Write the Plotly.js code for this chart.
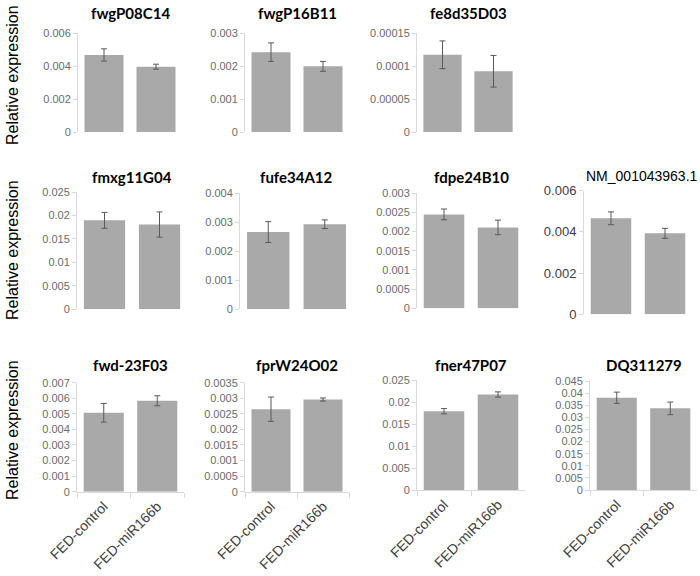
<!DOCTYPE html>
<html>
<head>
<meta charset="utf-8">
<script src="https://cdn.plot.ly/plotly-3.0.1.min.js"></script>
<style>html,body{margin:0;padding:0;background:#fff;}#chart{width:700px;height:576px;}</style>
</head>
<body>
<div id="chart"></div>
<script>
// ---- data ----
const genes = ["fwgP08C14", "fwgP16B11", "fe8d35D03", "fmxg11G04", "fufe34A12", "fdpe24B10", "NM_001043963.1", "fwd-23F03", "fprW24O02", "fner47P07", "DQ311279"];
const categories = ["FED-control", "FED-miR166b"];
const controlMean = [0.00467, 0.00242, 0.000117, 0.0190, 0.00266, 0.00245, 0.00466, 0.00507, 0.00265, 0.0179, 0.0381];
const controlErr  = [0.00037, 0.00028, 0.000021, 0.0017, 0.00036, 0.00014, 0.00031, 0.00060, 0.00039, 0.0006, 0.0023];
const mirMean     = [0.00396, 0.00199, 0.000092, 0.0181, 0.00293, 0.00211, 0.00393, 0.00584, 0.00296, 0.0217, 0.0337];
const mirErr      = [0.00015, 0.00015, 0.000024, 0.0027, 0.00015, 0.00019, 0.00024, 0.00032, 0.00005, 0.0006, 0.0026];
const axisMax     = [0.006, 0.003, 0.00015, 0.025, 0.004, 0.003, 0.006, 0.007, 0.0035, 0.025, 0.045];
const tickStep    = [0.002, 0.001, 0.00005, 0.005, 0.001, 0.0005, 0.002, 0.001, 0.0005, 0.005, 0.005];
const yTitle = "Relative expression";

// ---- panel placement (pixels) ----
const W = 700, H = 576;
const boxes = [
  // [left, right, top, bottom, titleY, row]
  [78, 182, 33, 132, 13, 1],
  [245, 349, 33, 132, 13, 1],
  [417, 519, 33, 132, 13, 1],
  [77, 187, 192.3, 309, 177, 2],
  [240, 353, 193.3, 309, 177, 2],
  [417, 525, 193.3, 308.3, 177, 2],
  [584, 692, 190.7, 314.3, 176, 2],
  [77, 184, 382.7, 491.7, 365, 3],
  [245, 349, 382.7, 491.7, 365, 3],
  [417, 525, 380, 490, 365, 3],
  [590, 697, 381, 490, 365, 3]
];

const traces = [];
const layout = {
  width: W, height: H,
  margin: {l: 0, r: 0, t: 0, b: 0},
  paper_bgcolor: "#ffffff", plot_bgcolor: "#ffffff",
  showlegend: false,
  bargap: 0.25,
  font: {family: "Liberation Sans, Arial, sans-serif", color: "#595959"},
  annotations: []
};

genes.forEach((g, i) => {
  const b = boxes[i];
  const n = i === 0 ? "" : String(i + 1);
  const xa = "x" + n, ya = "y" + n;
  traces.push({
    type: "bar",
    x: categories,
    y: [controlMean[i], mirMean[i]],
    xaxis: xa, yaxis: ya,
    marker: {color: "#a9a9a9"},
    error_y: {type: "data", array: [controlErr[i], mirErr[i]], color: "#595959", thickness: 1, width: 3},
    hoverinfo: "skip"
  });
  const isBottom = b[5] === 3;
  const special = i === 6;
  layout["xaxis" + n] = {
    domain: [b[0] / W, b[1] / W],
    anchor: ya,
    type: "category",
    showline: isBottom,
    linecolor: "#d9d9d9",
    linewidth: 1,
    ticks: isBottom ? "outside" : "",
    tickson: "boundaries",
    ticklen: 5,
    tickcolor: "#d9d9d9",
    showticklabels: isBottom,
    tickangle: -45,
    tickfont: {family: "Liberation Sans, Arial, sans-serif", size: 14, color: "#404040"},
    showgrid: false, zeroline: false,
    fixedrange: true
  };
  layout["yaxis" + n] = {
    domain: [1 - b[3] / H, 1 - b[2] / H],
    anchor: xa,
    range: [0, axisMax[i]],
    dtick: tickStep[i],
    tick0: 0,
    exponentformat: "none",
    showline: true,
    linecolor: "#d9d9d9",
    linewidth: 1,
    ticks: "outside",
    ticklen: 4,
    tickcolor: "#d9d9d9",
    tickfont: special
      ? {family: "Liberation Sans, Arial, sans-serif", size: 13, color: "#404040"}
      : {family: "Liberation Sans, Arial, sans-serif", size: 11, color: "#6b6b6b"},
    showgrid: false, zeroline: false,
    fixedrange: true
  };
  layout.annotations.push({
    xref: "paper", yref: "paper",
    x: special ? 642 / W : (b[0] + b[1]) / 2 / W,
    y: 1 - b[4] / H,
    xanchor: "center", yanchor: "middle",
    showarrow: false,
    text: special ? g : "<b>" + g + "</b>",
    font: special
      ? {family: "Liberation Sans, Arial, sans-serif", size: 14, color: "#000000"}
      : {family: "Lato, sans-serif", size: 15, color: "#000000"}
  });
});

[75, 250, 430].forEach(cy => {
  layout.annotations.push({
    xref: "paper", yref: "paper",
    x: 12 / W, y: 1 - cy / H,
    xanchor: "center", yanchor: "middle",
    showarrow: false, textangle: -90,
    text: yTitle,
    font: {family: "Liberation Sans, Arial, sans-serif", size: 16, color: "#000000"}
  });
});

Plotly.newPlot("chart", traces, layout, {displayModeBar: false, staticPlot: true});
</script>
</body>
</html>
